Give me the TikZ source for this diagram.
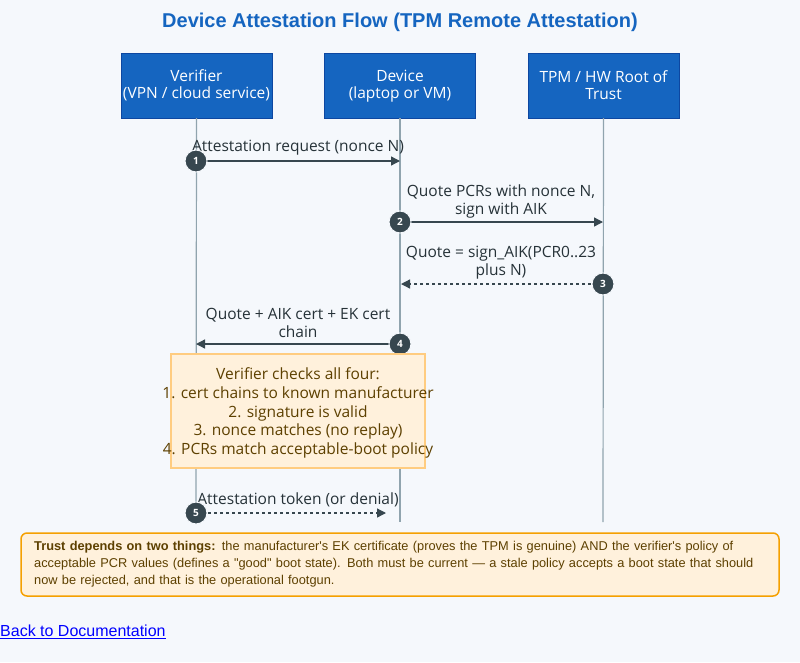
\documentclass[tikz,border=0pt]{standalone}
\usepackage{fontspec}
\setmainfont{Open Sans}
\newfontfamily\arialf{Liberation Sans}
\usetikzlibrary{arrows.meta}
\definecolor{bg}{HTML}{F5F8FC}
\definecolor{hdr}{HTML}{1565C0}
\definecolor{hdrb}{HTML}{0D47A1}
\definecolor{ink}{HTML}{37474F}
\definecolor{life}{HTML}{90A4AE}
\definecolor{notef}{HTML}{FFF1DC}
\definecolor{noteb}{HTML}{FFCC80}
\definecolor{txt}{HTML}{263238}
\definecolor{brown}{HTML}{5D4000}
\definecolor{orb}{HTML}{F5A000}
\tikzset{x=1pt,y=-1pt,
 actor/.style={draw=hdrb,fill=hdr,text=white,minimum width=151pt,minimum height=65pt,align=center,font=\fontsize{15.5}{17}\selectfont,inner sep=0pt},
 lifeline/.style={draw=life,line width=1.2pt},
 msg/.style={draw=ink,line width=1.3pt,-{Triangle[length=9pt,width=9pt]}},
 dmsg/.style={msg,dash pattern=on 3pt off 3pt},
 lbl/.style={text=txt,align=center,font=\fontsize{15.5}{18}\selectfont,inner sep=0pt},
 stepmark/.style={circle,fill=ink,draw=bg,line width=1pt,text=white,minimum size=22pt,inner sep=0pt,font=\bfseries\fontsize{10}{10}\selectfont}}
\begin{document}
\begin{tikzpicture}
\path[fill=bg] (0,0) rectangle (800,662);
\useasboundingbox (0,0) rectangle (800,662);
\node[font=\arialf\bfseries\fontsize{20}{22}\selectfont,text=hdr] (title) at (400,22) {Device Attestation Flow (TPM Remote Attestation)};
\node[actor] (v) at (196.5,85.5) {\strut Verifier\\(VPN / cloud service)};
\node[actor] (d) at (400,85.5) {\strut Device\\(laptop or VM)};
\node[actor] (t) at (603.5,85.5) {\strut TPM / HW Root of\\Trust};
\coordinate (ve) at (196,522); \coordinate (de) at (400,522); \coordinate (te) at (603,522);
\draw[lifeline] (v.south) -- (ve);
\draw[lifeline] (d.south) -- (de);
\draw[lifeline] (t.south) -- (te);
% 1
\coordinate (a1) at (196,161); \coordinate (b1) at (400,161);
\draw[msg] (a1) -- (b1);
\node[lbl] (l1) at (298,148) {Attestation request (nonce N)};
\node[stepmark] (m1) at (a1) {1};
% 2
\coordinate (a2) at (400,222); \coordinate (b2) at (603,222);
\draw[msg] (a2) -- (b2);
\node[lbl] (l2) at (501,201) {Quote PCRs with nonce N,\\sign with AIK};
\node[stepmark] (m2) at (a2) {2};
% 3
\coordinate (a3) at (603,284); \coordinate (b3) at (401,284);
\draw[dmsg] (a3) -- (b3);
\node[lbl] (l3) at (501,263) {Quote = sign\_AIK(PCR0..23\\plus N)};
\node[stepmark] (m3) at (a3) {3};
% 4
\coordinate (a4) at (400,344); \coordinate (b4) at (196,344);
\draw[msg] (a4) -- (b4);
\node[lbl] (l4) at (298,323) {Quote + AIK cert + EK cert\\chain};
\node[stepmark] (m4) at (a4) {4};
% note
\node[draw=noteb,fill=notef,line width=1.3pt,minimum width=254pt,minimum height=114pt,inner sep=0pt] (chk) at (298,411) {};
\node[text=brown,align=center,font=\fontsize{15.5}{18.7}\selectfont,inner sep=0pt] (chkt) at (298,413) {Verifier checks all four:\\1. cert chains to known manufacturer\\2. signature is valid\\3. nonce matches (no replay)\\4. PCRs match acceptable-boot policy};
% 5
\coordinate (a5) at (196,513); \coordinate (b5) at (386,513);
\draw[dmsg] (a5) -- (b5);
\node[lbl] (l5) at (298,500) {Attestation token (or denial)};
\node[stepmark] (m5) at (a5) {5};
% footer
\node[draw=orb,fill=notef,line width=1.5pt,rounded corners=6pt,minimum width=758pt,minimum height=63pt,inner sep=0pt] (foot) at (400,564.5) {};
\node[anchor=north west,text=brown,align=left,text width=720pt,font=\arialf\fontsize{12.8}{17}\selectfont,inner sep=0pt] (ftxt) at (34,541) {\textbf{Trust depends on two things:} the manufacturer's EK certificate (proves the TPM is genuine) AND the verifier's policy of acceptable PCR values (defines a "good" boot state). Both must be current — a stale policy accepts a boot state that should now be rejected, and that is the operational footgun.};
\node[anchor=west,text=blue,font=\arialf\fontsize{16}{17}\selectfont,inner sep=0pt] (link) at (0,632) {\underline{Back to Documentation}};
\end{tikzpicture}
\end{document}
